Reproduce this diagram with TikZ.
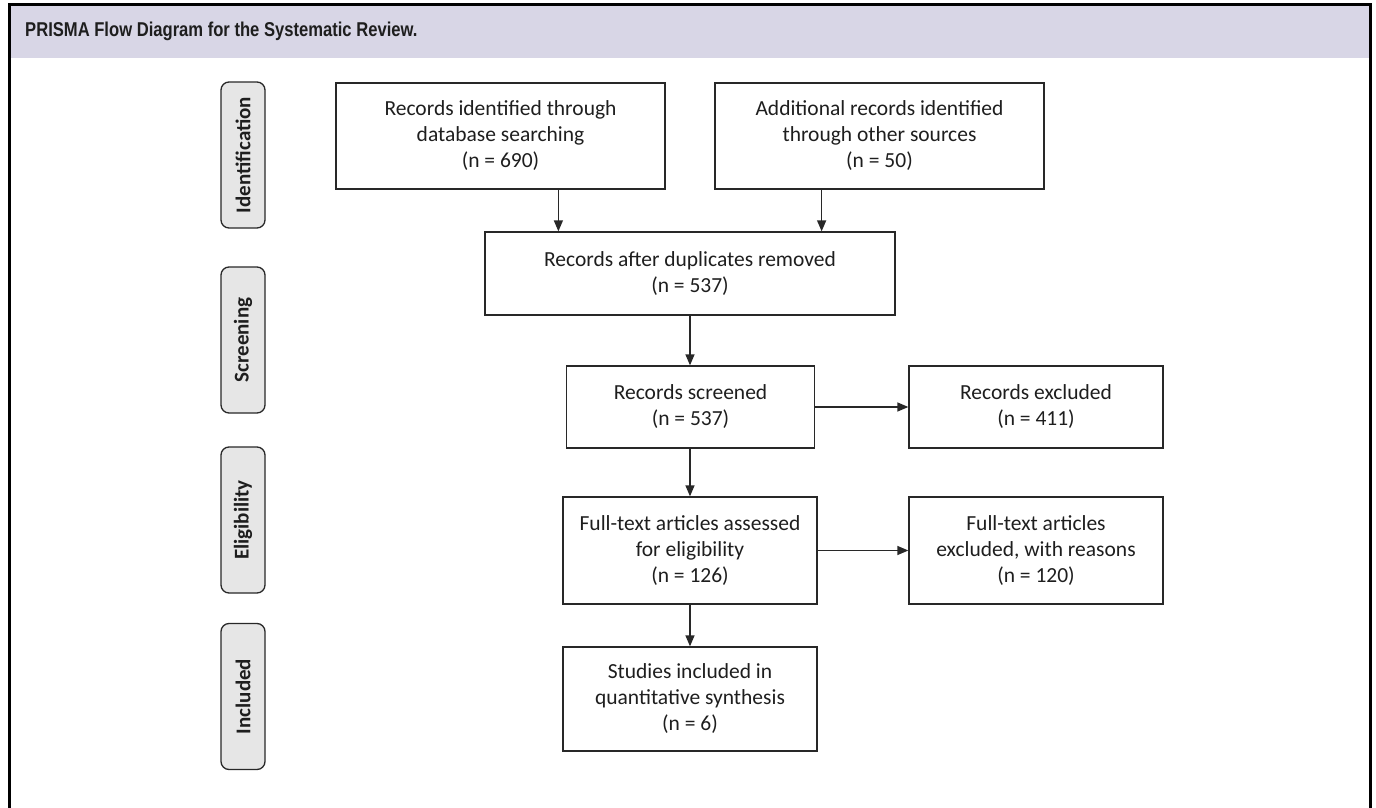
\documentclass[tikz,border=0pt]{standalone}
\usepackage{fontspec}
\usepackage{graphicx}
\setmainfont{Carlito}
\newfontfamily\titlefont{Liberation Sans}
\usetikzlibrary{arrows.meta}
\usetikzlibrary{positioning,calc}
\definecolor{headfill}{RGB}{216,214,230}
\definecolor{phasefill}{RGB}{230,230,230}
\definecolor{boxline}{RGB}{40,40,40}
\definecolor{textgrey}{RGB}{30,30,30}
\tikzset{>={Triangle[length=11pt,width=9pt]},
  box/.style={draw=boxline,line width=1.3pt,align=center,inner sep=0pt,
    text=textgrey,font=\fontsize{21.5}{26}\selectfont},
  phase/.style={draw=boxline,fill=phasefill,rounded corners=8pt,line width=1.3pt,
    rotate=90,minimum width=146pt,minimum height=44pt,inner sep=0pt,
    text=textgrey,font=\fontsize{21}{24}\selectfont\bfseries},
  arr/.style={->,draw=boxline,line width=1.4pt}}

\begin{document}
\begin{tikzpicture}[x=1pt,y=-1pt,line cap=round]

  \useasboundingbox (0,0) rectangle (1376,808);

  % frame and heading
  \fill [headfill] (9,5) rectangle (1370,58);
  \draw [line width=3pt,line cap=butt] (9,808) -- (9,5) -- (1370,5) -- (1370,808);
  \node [anchor=west,text=textgrey,inner sep=0pt] (title) at (25,31.5)
    {\scalebox{0.83}[1]{\titlefont\fontsize{20}{24}\selectfont\bfseries PRISMA Flow Diagram for the Systematic Review.}};

  % phases
  \node [phase] (ident) at (243,155) {Identification};
  \node [phase] (screen) at (243,340) {Screening};
  \node [phase] (elig) at (243,520) {Eligibility};
  \node [phase] (incl) at (243,696.5) {Included};

  % boxes
  \node [box,minimum width=329pt,minimum height=106pt] (dbase) at (500.5,136)
    {Records identified through\\database searching\\(n = 690)};
  \node [box,minimum width=329pt,minimum height=106pt] (other) at (879.5,136)
    {Additional records identified\\through other sources\\(n = 50)};
  \node [box,minimum width=410pt,minimum height=83pt] (dupl) at (690,273.5)
    {Records after duplicates removed\\(n = 537)};
  \node [box,minimum width=248pt,minimum height=82pt] (screened) at (690.5,407)
    {Records screened\\(n = 537)};
  \node [box,minimum width=254pt,minimum height=82pt] (recexcl) at (1036,407)
    {Records excluded\\(n = 411)};
  \node [box,minimum width=254pt,minimum height=107pt] (fulltext) at (690,550.5)
    {Full-text articles assessed\\for eligibility\\(n = 126)};
  \node [box,minimum width=254pt,minimum height=107pt] (fullexcl) at (1036,550.5)
    {Full-text articles\\excluded, with reasons\\(n = 120)};
  \node [box,minimum width=254pt,minimum height=104pt] (studies) at (690,699)
    {Studies included in\\quantitative synthesis\\(n = 6)};

  % connectors
  \coordinate (dupl-a) at ($(dupl.north west)!0.18!(dupl.north east)$);
  \coordinate (dupl-b) at ($(dupl.north west)!0.82!(dupl.north east)$);
  \draw [arr] (dbase.south -| dupl-a) -- (dupl-a);
  \draw [arr] (other.south -| dupl-b) -- (dupl-b);
  \draw [arr] (dupl.south) -- (screened.north -| dupl.south);
  \draw [arr] (screened.south -| fulltext.north) -- (fulltext.north);
  \draw [arr] (fulltext.south) -- (studies.north);
  \draw [arr] (screened.east) -- (recexcl.west);
  \draw [arr] (fulltext.east) -- (fullexcl.west);

\end{tikzpicture}
\end{document}
